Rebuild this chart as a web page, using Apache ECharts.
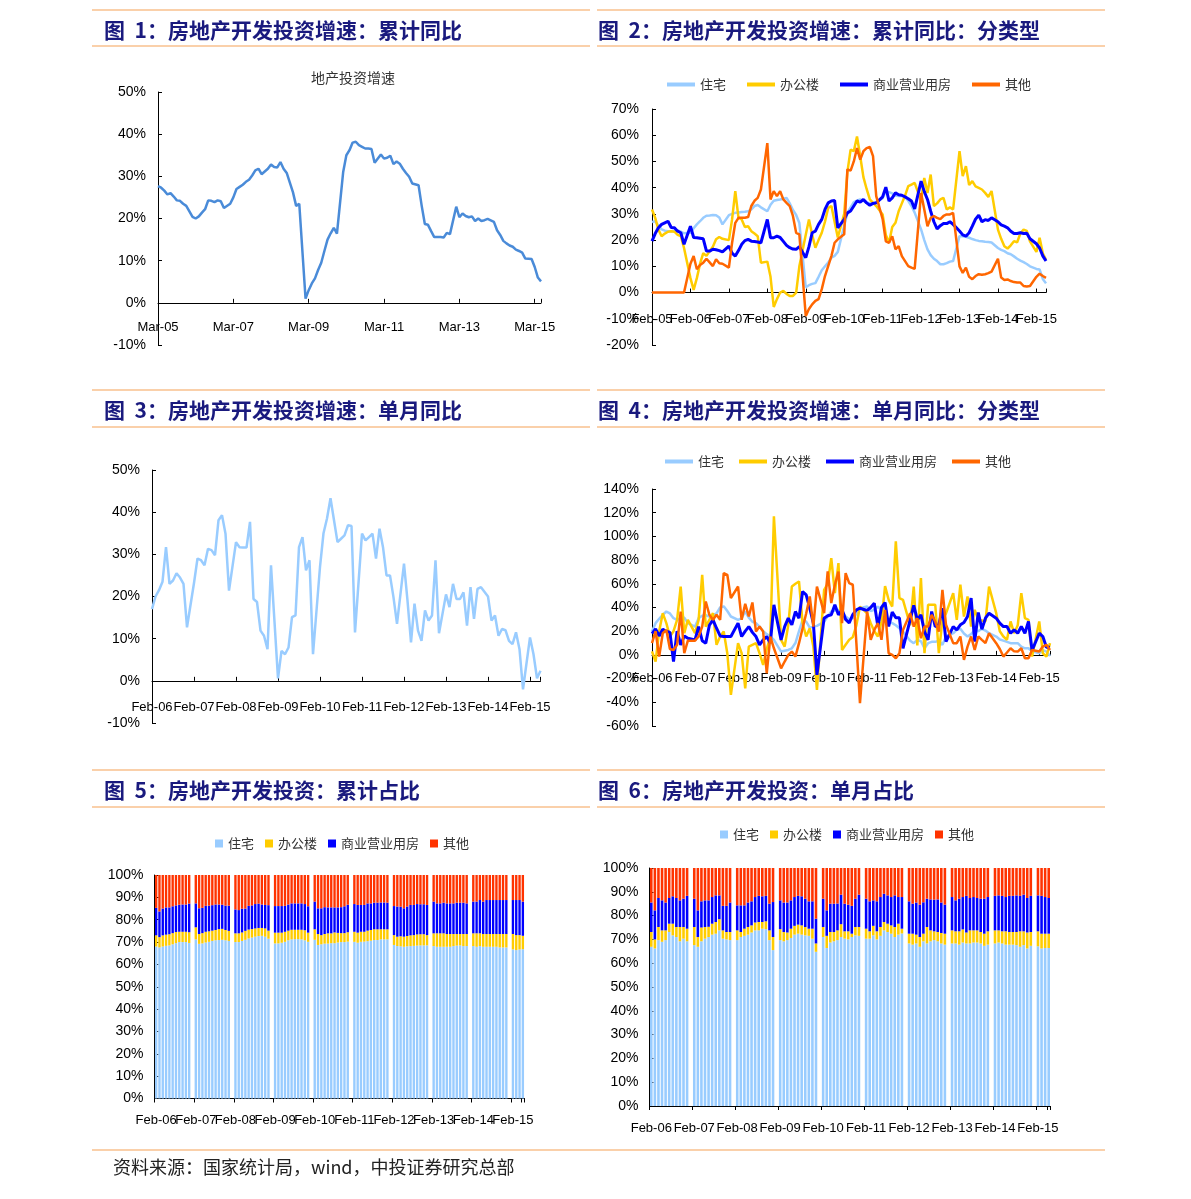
<!DOCTYPE html>
<html><head><meta charset="utf-8">
<script src="https://cdn.jsdelivr.net/npm/echarts@6/dist/echarts.min.js"></script>
<style>html,body{margin:0;padding:0;background:#fff;}#c{width:1191px;height:1199px;}</style>
</head><body><div id="c"></div>
<script>
// ---------- categories / tick labels ----------
const MON = ['Jan','Feb','Mar','Apr','May','Jun','Jul','Aug','Sep','Oct','Nov','Dec'];
function monthLabels(y, m, n) { const a = []; for (let i = 0; i < n; i++) { const k = m - 1 + i; a.push(MON[k % 12] + '-' + String((y + Math.floor(k / 12)) % 100).padStart(2, '0')); } return a; }
const cat1 = monthLabels(2005, 3, 123);   // Mar-05 .. May-15
const cat2 = monthLabels(2005, 2, 124);   // Feb-05 .. May-15
const cat36 = monthLabels(2006, 2, 112);  // Feb-06 .. May-15
const seriesNames = ['住宅', '办公楼', '商业营业用房', '其他'];

// ---------- chart 1: 地产投资增速 (累计同比) ----------
const cum1 = [27.7,27.3,26.6,25.7,26.0,25.2,24.3,24.2,23.5,23.0,null,
20.4,20.0,20.5,21.4,22.2,24.3,24.2,23.9,24.3,24.1,22.5,null,
23.5,25.0,27.0,27.5,28.0,28.7,29.2,30.2,31.4,31.8,30.5,null,
31.8,32.8,32.2,32.1,33.4,31.8,30.8,28.5,26.2,23.0,23.5,null,
1.0,3.0,4.6,5.8,7.8,9.5,12.3,15.0,16.5,17.8,16.4,null,
31.1,35.0,36.2,38.0,38.2,37.4,37.0,36.6,36.6,36.5,33.2,null,
35.2,34.2,34.4,34.9,32.9,33.5,33.0,31.8,30.8,29.9,28.3,null,
27.9,23.0,18.7,18.5,17.0,15.6,15.6,15.6,15.5,16.6,16.3,null,
22.8,20.3,21.2,20.6,20.3,20.5,19.4,20.0,19.4,19.6,19.9,null,
19.2,17.2,16.1,14.7,14.1,13.6,13.3,12.6,12.3,11.9,10.5,null,
10.4,8.5,6.0,5.1];

// ---------- chart 2: 累计同比 分类型 ----------
const res2 = [26.9,27.2,25.5,24.1,23.6,23.4,23.4,23.6,23.7,23.2,22.6,null,
22.8,24.5,26.0,27.2,28.5,29.3,29.4,29.6,29.5,28.6,26.0,null,
29.5,30.0,30.4,30.5,30.7,30.8,31.0,31.7,33.0,33.4,32.5,null,
31.0,33.5,35.0,35.3,35.5,35.8,36.1,34.0,31.5,29.6,26.5,null,
2.0,2.8,3.3,3.6,6.0,8.5,10.0,11.4,13.3,14.0,15.5,null,
25.5,30.4,32.5,34.5,35.0,35.5,35.0,34.2,34.2,34.2,34.5,null,
36.0,38.6,38.3,37.8,37.0,36.8,36.8,36.5,35.0,33.0,30.5,null,
24.1,20.0,16.5,14.3,12.9,12.0,10.8,10.8,11.2,11.8,12.0,null,
21.5,21.5,21.3,20.9,20.4,20.0,19.7,19.6,19.4,19.3,19.1,null,
17.0,16.3,15.8,15.0,14.6,13.8,12.9,12.2,11.6,10.9,10.0,null,
9.0,8.8,5.2,3.5];
const off2 = [31.7,28.5,24.0,21.5,22.5,23.2,23.4,23.2,22.0,21.5,17.0,null,
5.5,1.0,5.5,11.0,15.0,14.0,15.8,17.5,20.3,21.2,20.5,null,
20.0,27.9,38.7,28.5,27.9,25.0,25.3,23.4,22.5,21.5,11.4,null,
11.8,6.0,-5.5,-2.5,0.0,0.6,-0.5,-1.3,-1.3,0.0,10.0,null,
22.0,27.9,22.0,17.1,20.0,22.8,27.0,32.3,33.0,27.0,21.0,null,
30.0,46.0,54.5,53.9,59.5,52.0,44.0,39.5,35.5,34.2,33.0,null,
29.8,22.0,19.0,25.0,26.6,31.0,34.0,37.0,40.6,41.2,41.8,null,
35.0,43.7,38.0,45.0,33.0,34.0,35.5,36.1,31.7,32.5,31.7,null,
53.9,44.4,48.2,41.0,42.5,40.5,39.9,39.3,38.0,36.5,38.7,null,
24.0,20.5,17.7,16.8,18.0,19.6,19.2,22.5,24.0,23.5,19.5,null,
15.5,20.9,15.0,12.5];
const com2 = [19.6,22.5,24.7,26.0,26.6,27.2,24.8,24.7,23.4,22.8,18.4,null,
25.3,21.0,20.9,20.7,20.5,15.8,15.8,16.5,16.3,16.0,15.5,null,
17.7,15.0,13.9,16.0,18.4,19.8,20.3,19.6,19.5,19.3,19.0,null,
27.9,20.9,20.9,21.5,21.0,19.5,18.0,17.1,16.6,16.5,17.5,null,
13.3,17.5,22.8,23.4,26.0,27.9,31.7,34.2,34.9,35.1,24.7,null,
27.9,30.4,31.1,33.0,34.9,34.5,35.5,34.2,33.3,34.0,34.2,null,
36.5,40.2,34.9,36.1,38.0,37.3,37.1,36.5,35.8,34.9,31.9,null,
42.5,38.5,35.5,31.0,27.0,24.3,25.5,26.3,26.3,27.0,26.0,null,
23.5,22.0,21.5,22.8,25.3,28.0,29.5,27.0,27.8,27.5,28.5,null,
27.0,25.8,25.3,24.7,23.4,22.5,22.5,22.8,22.5,22.6,20.5,null,
18.6,17.0,14.0,12.0];
const oth2 = [0,0,0,0,0,0,0,0,0,0,0,null,
11.0,13.9,8.9,10.5,11.4,12.9,11.5,10.1,12.7,11.2,11.0,null,
9.5,19.0,26.6,28.5,28.5,28.5,28.8,33.0,35.0,36.1,39.3,null,
57.0,35.5,38.7,36.8,38.7,35.5,34.2,33.0,29.2,22.8,22.2,null,
-8.9,-6.3,-4.5,-3.2,-2.5,1.3,6.3,10.1,13.9,19.0,20.3,null,
22.2,47.0,46.5,50.0,55.1,50.7,53.9,55.1,55.5,52.0,36.8,null,
28.0,19.5,19.0,21.5,16.5,17.7,13.9,12.0,10.1,9.5,9.0,null,
38.0,31.7,25.3,28.5,29.2,28.5,28.0,29.2,29.8,29.8,30.4,null,
10.0,7.5,9.5,6.0,5.1,6.3,7.0,6.8,7.0,7.4,8.0,null,
12.9,5.7,4.8,5.0,4.4,4.0,3.8,3.8,2.5,2.3,2.5,null,
6.0,7.2,6.3,5.6];

// ---------- chart 3: 单月同比 ----------
const mon3 = [17.0,20.0,21.5,23.5,31.7,23.0,23.8,25.5,24.5,23.0,12.7,null,
23.2,29.0,28.6,27.4,31.3,31.0,29.8,38.1,39.3,34.9,21.4,null,
32.9,31.7,31.6,31.6,37.7,19.4,18.7,11.9,10.7,7.5,27.4,null,
0.6,7.1,6.3,7.9,15.1,15.5,31.7,34.1,26.2,28.6,6.3,null,
27.0,35.0,38.5,43.3,38.1,32.9,33.7,34.5,36.9,36.7,11.5,null,
34.9,33.3,34.1,34.9,29.0,36.1,31.7,25.0,25.0,19.8,13.5,null,
27.8,19.0,9.1,18.3,11.9,9.5,16.7,14.3,15.5,28.6,11.3,null,
20.5,17.5,23.0,19.4,19.4,21.0,13.1,22.2,14.7,21.8,22.2,null,
20.0,14.3,15.5,10.7,12.3,12.0,9.5,8.7,11.5,7.5,-2.0,null,
10.3,6.3,0.6,2.4];

// ---------- chart 4: 单月同比 分类型 ----------
const res4 = [19.7,26.8,30.5,33.8,36.6,35.0,31.0,29.6,31.0,31.5,26.8,null,
23.9,31.0,33.0,33.5,32.4,33.5,35.0,40.0,41.0,37.0,32.4,null,
29.6,31.0,36.6,31.5,28.0,26.8,23.9,20.0,17.5,15.5,12.7,null,
2.8,3.5,4.2,5.6,10.0,20.0,29.6,28.0,23.0,23.9,24.5,null,
28.0,32.4,36.6,37.5,38.0,36.6,32.4,30.0,31.0,34.5,39.4,null,
40.8,37.0,38.0,40.8,38.0,33.0,28.0,26.8,25.0,22.5,19.7,null,
12.0,9.9,12.7,11.5,5.6,9.9,11.0,11.0,12.0,8.5,15.5,null,
18.3,21.1,22.0,18.0,15.5,17.5,21.0,20.0,22.0,20.5,18.3,null,
15.5,13.0,12.0,11.0,9.9,9.9,9.9,7.0,5.6,5.6,3.0,null,
1.4,4.0,2.8,-1.0];
const off4 = [3.0,-5.6,20.0,35.2,26.8,15.5,20.0,29.6,57.7,18.3,29.6,null,
18.3,29.6,67.6,23.9,29.6,35.2,8.5,15.5,19.7,1.4,-33.8,null,
9.9,1.4,-28.2,7.0,8.5,9.9,1.4,-8.5,5.0,15.5,117.0,null,
12.7,7.0,25.0,57.7,60.0,62.0,26.8,15.5,22.5,7.0,-29.6,null,
54.9,60.0,81.7,52.1,77.5,4.2,8.5,12.7,15.0,25.0,40.8,null,
35.0,26.8,20.0,15.5,28.0,58.0,46.5,40.8,95.8,48.0,46.5,null,
25.0,57.7,8.0,64.8,1.4,42.3,42.3,42.3,1.4,29.6,35.0,null,
52.1,29.6,59.2,32.4,49.3,23.9,38.0,29.6,29.0,28.2,57.7,null,
35.2,20.0,15.5,12.7,28.2,18.3,25.0,52.1,31.0,29.6,-1.4,null,
28.2,1.4,-1.4,9.9];
const com4 = [18.0,22.0,16.0,21.7,20.0,19.0,-5.6,20.0,8.5,16.0,14.0,null,
12.7,23.9,12.0,9.9,25.0,29.6,22.5,16.0,15.5,15.5,15.5,null,
26.8,15.5,20.0,23.9,19.0,15.5,8.5,12.7,15.5,9.9,42.3,null,
12.7,23.9,31.0,25.4,36.6,31.0,53.5,50.7,39.4,26.8,-16.9,null,
31.0,33.0,33.8,42.3,33.8,38.0,30.0,27.0,34.0,38.0,39.4,null,
37.5,40.0,43.7,24.0,40.0,44.2,24.0,36.1,31.3,31.3,5.6,null,
29.6,41.7,29.6,33.8,19.7,12.7,36.6,23.9,25.4,39.4,11.3,null,
23.9,21.1,25.4,27.3,32.4,47.9,11.3,35.8,21.7,31.0,35.2,null,
31.0,26.8,23.9,23.9,18.3,21.1,18.3,23.9,18.3,28.2,3.7,null,
18.3,15.5,6.5,6.5];
const oth4 = [9.9,20.0,-1.4,18.3,21.1,5.0,4.2,8.5,36.6,1.4,12.0,null,
12.0,15.5,23.9,45.1,33.8,29.6,33.8,29.6,69.0,67.6,47.9,null,
57.7,29.6,43.1,32.4,44.2,19.7,23.9,19.7,-15.5,15.5,5.6,null,
-11.3,-5.6,0.0,2.8,-1.4,9.9,22.5,35.0,49.3,23.9,57.7,null,
35.2,70.4,43.7,59.2,70.4,26.8,69.0,60.6,59.2,9.9,-40.8,null,
36.6,12.7,21.1,26.8,12.7,38.0,1.4,0.0,-2.8,1.4,21.1,null,
35.2,23.9,31.0,14.1,23.9,23.9,33.8,28.2,19.7,54.9,25.4,null,
9.9,9.9,15.5,-4.2,7.0,15.5,4.2,15.5,12.7,10.0,18.3,null,
9.9,5.0,-1.4,2.0,5.6,3.0,2.8,5.6,-2.8,-2.8,4.2,null,
2.8,7.0,8.5,4.2];

// ---------- chart 5: 累计占比 ----------
const res5 = [68.0,67.6,68.0,68.3,68.5,69.0,69.5,70.0,70.0,70.0,69.6,null,
71.2,69.2,69.4,69.8,70.1,70.5,70.8,70.9,71.0,70.8,70.5,null,
70.0,70.0,70.5,71.0,71.6,72.0,72.4,72.7,72.8,72.4,71.5,null,
69.4,69.4,69.7,70.1,70.8,71.2,71.3,71.3,71.2,70.8,70.1,null,
71.0,68.7,69.0,69.3,69.3,69.5,69.5,69.8,70.0,70.0,70.2,null,
70.1,69.7,70.1,70.2,70.4,70.6,70.9,70.9,71.2,71.2,71.2,null,
68.7,68.2,68.1,67.9,68.1,68.2,68.3,68.4,68.5,68.5,68.5,null,
68.2,67.9,67.9,67.9,67.9,67.9,68.2,68.4,68.5,68.2,68.2,null,
68.2,67.9,68.2,67.9,67.9,67.9,67.9,67.9,67.6,67.6,67.6,null,
66.7,66.4,66.7,66.8];
const off5 = [5.0,4.6,5.0,5.0,5.0,5.0,5.0,4.6,4.6,4.6,4.8,null,
5.4,4.4,4.6,4.8,4.7,4.6,4.6,4.9,4.9,4.6,4.5,null,
3.9,3.9,3.8,4.0,4.0,3.8,3.7,3.6,3.5,3.7,3.6,null,
4.8,4.8,4.5,4.5,4.3,4.3,4.2,4.2,4.3,4.5,4.1,null,
4.7,4.9,4.1,4.3,4.6,4.4,4.8,4.3,4.0,4.0,4.2,null,
4.5,4.5,4.5,4.4,4.7,4.8,4.8,4.8,4.5,4.5,4.5,null,
4.4,4.2,4.5,4.5,4.6,4.8,4.8,5.0,5.0,5.0,4.6,null,
5.7,6.0,6.0,6.0,5.7,5.7,5.4,5.2,5.1,5.4,5.4,null,
5.7,6.0,5.7,5.7,5.7,5.7,5.7,5.7,6.0,6.0,6.0,null,
6.9,6.7,6.4,6.0];
const com5 = [12.3,11.5,12.0,12.2,12.0,12.0,11.9,12.1,12.2,12.2,12.8,null,
10.7,11.5,11.3,11.6,11.5,11.4,11.4,11.0,10.8,10.9,11.3,null,
10.7,10.4,10.6,10.0,10.6,10.6,10.9,10.9,10.5,10.5,11.4,null,
11.9,11.9,11.9,11.6,11.7,11.8,11.8,11.8,11.8,11.7,11.8,null,
12.4,11.5,12.0,12.0,11.6,11.6,11.2,11.4,11.6,12.0,12.3,null,
12.4,12.4,12.0,12.0,12.2,11.9,11.9,11.9,12.0,12.0,11.9,null,
13.0,13.5,13.2,12.7,13.2,13.6,13.5,13.6,13.4,13.4,13.5,null,
14.2,13.4,13.4,13.7,13.7,13.7,13.7,14.0,14.0,14.0,13.7,null,
14.2,14.2,14.9,14.5,15.2,15.2,15.2,15.2,15.2,15.2,15.2,null,
15.2,15.7,15.7,15.3];
const oth5 = [14.7,16.3,15.0,14.5,14.5,14.0,13.6,13.3,13.2,13.2,12.8,null,
12.7,14.9,14.7,13.8,13.7,13.5,13.2,13.2,13.3,13.7,13.7,null,
15.4,15.7,15.1,15.0,13.8,13.6,13.0,12.8,13.2,13.4,13.5,null,
13.9,13.9,13.9,13.8,13.2,12.7,12.7,12.7,12.7,13.0,14.0,null,
11.9,14.9,14.9,14.4,14.5,14.5,14.5,14.5,14.4,14.0,13.3,null,
13.0,13.4,13.4,13.4,12.7,12.7,12.4,12.4,12.3,12.3,12.4,null,
13.9,14.1,14.2,14.9,14.1,13.4,13.4,13.0,13.1,13.1,13.4,null,
11.9,12.7,12.7,12.4,12.7,12.7,12.7,12.4,12.4,12.4,12.7,null,
11.9,11.9,11.2,11.9,11.2,11.2,11.2,11.2,11.2,11.2,11.2,null,
11.2,11.2,11.2,11.9];

// ---------- chart 6: 单月占比 ----------
const res6 = [66.9,66.2,69.7,69.0,69.7,73.1,71.7,71.0,69.2,70.3,69.2,null,
67.6,66.9,69.2,70.3,71.0,72.0,72.4,73.8,70.3,70.0,69.7,null,
69.7,71.0,71.5,72.0,72.9,73.8,73.8,74.5,74.3,69.7,65.5,null,
69.7,69.2,69.7,70.6,72.0,72.4,72.0,71.7,71.5,70.3,64.8,null,
71.0,66.4,68.7,69.2,69.7,71.0,70.3,70.0,71.0,71.7,71.5,null,
70.3,70.3,71.7,70.0,71.5,73.8,73.1,72.4,71.0,72.0,72.5,null,
68.3,67.8,68.3,66.9,69.2,68.3,69.2,69.7,69.2,68.3,67.8,null,
68.3,68.3,67.8,68.7,68.3,68.3,68.7,68.7,68.3,67.3,67.8,null,
68.3,68.7,68.3,67.8,67.8,67.8,67.6,66.9,67.6,66.2,67.3,null,
67.1,66.2,66.4,66.4];
const off6 = [6.2,3.8,5.5,4.8,4.1,3.5,4.9,4.2,6.0,4.9,5.3,null,
7.6,4.1,5.8,4.9,4.3,4.6,4.9,4.7,3.5,3.1,3.4,null,
4.1,2.1,3.0,3.2,3.0,3.3,3.5,2.8,3.3,4.1,5.5,null,
4.6,3.9,3.2,3.9,3.7,3.8,3.9,3.5,3.0,4.2,3.5,null,
4.2,5.1,4.4,3.9,4.1,5.4,3.1,3.4,1.4,3.5,3.7,null,
4.2,3.1,4.0,3.4,3.7,3.5,3.5,3.5,4.2,4.6,2.0,null,
4.1,4.6,3.7,4.1,3.2,6.9,4.6,3.7,3.9,4.4,4.6,null,
5.5,5.1,5.6,5.5,4.6,5.5,5.1,5.1,4.8,5.1,5.6,null,
5.5,5.1,5.1,5.6,5.3,5.3,5.5,6.5,5.8,6.7,5.8,null,
6.3,6.2,6.0,6.0];
const com6 = [12.4,12.2,12.2,12.6,11.7,10.8,11.5,12.2,11.2,11.9,13.8,null,
11.9,11.2,11.0,11.2,11.1,11.2,11.2,10.0,10.3,11.0,12.4,null,
10.5,11.2,9.8,10.3,10.1,10.7,11.0,10.8,10.7,11.2,14.7,null,
12.1,12.4,12.6,11.9,12.1,12.1,12.2,11.9,11.5,11.5,10.4,null,
11.9,10.7,11.9,11.9,11.3,12.4,11.6,11.2,11.7,11.9,13.6,null,
12.6,12.6,10.7,12.6,12.6,11.9,11.9,11.9,13.3,11.2,13.3,null,
13.6,12.6,13.5,13.6,13.2,11.9,13.0,13.3,13.7,12.8,12.2,null,
14.0,13.0,13.7,13.6,15.4,13.6,14.0,13.6,14.0,14.7,14.4,null,
14.5,14.7,14.9,14.4,15.2,15.2,15.4,14.9,15.4,14.5,15.2,null,
15.1,15.9,15.4,15.0];
const oth6 = [14.5,17.8,12.6,13.6,14.5,12.6,11.9,12.6,13.6,12.9,11.7,null,
12.9,17.8,14.0,13.6,13.6,12.2,11.5,11.5,15.9,15.9,14.5,null,
15.7,15.7,15.7,14.5,14.0,12.2,11.7,11.9,11.7,15.0,14.3,null,
13.6,14.5,14.5,13.6,12.2,11.7,11.9,12.9,14.0,14.0,21.3,null,
12.9,17.8,15.0,15.0,14.9,11.2,15.0,15.4,15.9,12.9,11.2,null,
12.9,14.0,13.6,14.0,12.2,10.8,11.5,12.2,11.5,12.2,12.2,null,
14.0,15.0,14.5,15.4,14.4,12.9,13.2,13.3,13.2,14.5,15.4,null,
12.2,13.6,12.9,12.2,11.7,12.6,12.2,12.6,12.9,12.9,12.2,null,
11.7,11.5,11.7,12.2,11.7,11.7,11.5,11.7,11.2,12.6,11.7,null,
11.5,11.7,12.2,12.6];

// ---------- styling ----------
const NUM = "'Liberation Sans Narrow','Arial Narrow','Liberation Sans',Arial,sans-serif";
const CJK = "'Noto Sans CJK SC','Noto Sans SC',sans-serif";
const LINE_COLORS = ['#99ccff', '#ffcc00', '#0000ff', '#ff6600'];
const BAR_COLORS = ['#99ccff', '#ffcc00', '#0000ff', '#ff3300'];
const HEAD = '#1a1a7e', RULE = '#f8c08e';
const FSX = 13, FSY = 14;

// every = show a label every N categories; offset moves the axis up to the 0% line
function catAxis(gi, data, every, boundaryGap, tickInside, margin, offset) {
  return { type: 'category', gridIndex: gi, data: data, boundaryGap: boundaryGap, position: 'bottom', offset: offset || 0,
    axisLine: { show: true, onZero: false, lineStyle: { color: '#000', width: 1 } },
    axisTick: { show: true, inside: tickInside, length: 4, interval: every - 1, lineStyle: { color: '#000' } },
    axisLabel: { interval: 0, margin: margin, fontSize: FSX, fontFamily: NUM, color: '#000',
      formatter: (v, i) => (i % every === 0 ? v : '') },
    splitLine: { show: false } };
}
function valAxis(gi, min, max, interval, margin) {
  return { type: 'value', gridIndex: gi, min: min, max: max, interval: interval,
    axisLine: { show: true, lineStyle: { color: '#000', width: 1 } },
    axisTick: { show: true, inside: true, length: 4, lineStyle: { color: '#000' } },
    axisLabel: { formatter: '{value}%', margin: margin, fontSize: FSY, fontFamily: NUM, color: '#000', showMinLabel: true, showMaxLabel: true },
    splitLine: { show: false } };
}
function lineSeries(name, gi, data, color, w) {
  return { type: 'line', name: name, xAxisIndex: gi, yAxisIndex: gi, data: data, symbol: 'none', showSymbol: false,
    connectNulls: true, lineStyle: { color: color, width: w || 2.5 }, itemStyle: { color: color } };
}
function barSeries(name, gi, data, color, stack) {
  return { type: 'bar', name: name, xAxisIndex: gi, yAxisIndex: gi, data: data, stack: stack,
    barCategoryGap: '28%', itemStyle: { color: color } };
}
function legendCfg(left, top, w, h, gap, colors) {
  return { left: left, top: top, itemWidth: w, itemHeight: h, itemGap: gap, icon: 'rect', orient: 'horizontal', padding: 0,
    textStyle: { fontSize: 13, fontFamily: CJK, color: '#333' },
    data: seriesNames.map((n, i) => ({ name: n, itemStyle: { color: colors[i] } })) };
}
function rule(x1, y, x2) { return { type: 'line', silent: true, shape: { x1: x1, y1: y, x2: x2, y2: y }, style: { stroke: RULE, lineWidth: 1.5 } }; }
function head(x, y, t) { return { type: 'text', silent: true, x: x, y: y, style: { text: t, fontSize: 21, fontWeight: 'bold', fontFamily: CJK, fill: HEAD, verticalAlign: 'middle' } }; }

const gridBase = { containLabel: false, outerBoundsMode: 'none' };
const option = {
  animation: false,
  backgroundColor: '#fff',
  textStyle: { fontFamily: NUM },
  grid: [
    Object.assign({ left: 158, top: 92, width: 383, height: 253 }, gridBase),
    Object.assign({ left: 652, top: 109, width: 394, height: 236 }, gridBase),
    Object.assign({ left: 152, top: 470, width: 388.5, height: 253 }, gridBase),
    Object.assign({ left: 652, top: 489, width: 398, height: 237 }, gridBase),
    Object.assign({ left: 154.5, top: 875, width: 370, height: 223.5 }, gridBase),
    Object.assign({ left: 649.5, top: 868, width: 401, height: 238 }, gridBase)
  ],
  xAxis: [
    catAxis(0, cat1, 24, false, true, 18, -253 * 10 / 60),
    catAxis(1, cat2, 12, false, true, 20, -236 * 20 / 90),
    catAxis(2, cat36, 12, false, true, 20, -253 * 10 / 60),
    catAxis(3, cat36, 12, false, true, 17, -237 * 60 / 200),
    catAxis(4, cat36, 12, true, false, 15, 0),
    catAxis(5, cat36, 12, true, false, 16, 0)
  ],
  yAxis: [
    valAxis(0, -10, 50, 10, 12),
    valAxis(1, -20, 70, 10, 13),
    valAxis(2, -10, 50, 10, 12),
    valAxis(3, -60, 140, 20, 13),
    valAxis(4, 0, 100, 10, 11),
    valAxis(5, 0, 100, 10, 11)
  ],
  legend: [
    legendCfg(667, 78, 28, 4, 21, LINE_COLORS),
    legendCfg(665, 455, 28, 4, 15, LINE_COLORS),
    legendCfg(215, 837, 8, 8, 11, BAR_COLORS),
    legendCfg(720, 828, 8, 8, 11, BAR_COLORS)
  ],
  series: [
    lineSeries('地产投资增速', 0, cum1, '#4a8bd8', 2.5),
    lineSeries(seriesNames[0], 1, res2, LINE_COLORS[0]),
    lineSeries(seriesNames[1], 1, off2, LINE_COLORS[1]),
    lineSeries(seriesNames[2], 1, com2, LINE_COLORS[2], 3),
    lineSeries(seriesNames[3], 1, oth2, LINE_COLORS[3]),
    lineSeries('单月同比', 2, mon3, '#99ccff', 2.5),
    lineSeries(seriesNames[0], 3, res4, LINE_COLORS[0]),
    lineSeries(seriesNames[1], 3, off4, LINE_COLORS[1]),
    lineSeries(seriesNames[2], 3, com4, LINE_COLORS[2], 3),
    lineSeries(seriesNames[3], 3, oth4, LINE_COLORS[3]),
    barSeries(seriesNames[0], 4, res5, BAR_COLORS[0], 's5'),
    barSeries(seriesNames[1], 4, off5, BAR_COLORS[1], 's5'),
    barSeries(seriesNames[2], 4, com5, BAR_COLORS[2], 's5'),
    barSeries(seriesNames[3], 4, oth5, BAR_COLORS[3], 's5'),
    barSeries(seriesNames[0], 5, res6, BAR_COLORS[0], 's6'),
    barSeries(seriesNames[1], 5, off6, BAR_COLORS[1], 's6'),
    barSeries(seriesNames[2], 5, com6, BAR_COLORS[2], 's6'),
    barSeries(seriesNames[3], 5, oth6, BAR_COLORS[3], 's6')
  ],
  graphic: [
    rule(92, 10, 590), rule(597, 10, 1105), rule(92, 46, 590), rule(597, 46, 1105),
    rule(92, 390, 590), rule(597, 390, 1105), rule(92, 427, 590), rule(597, 427, 1105),
    rule(92, 770, 590), rule(597, 770, 1105), rule(92, 807, 590), rule(597, 807, 1105),
    rule(92, 1150, 1105),
    head(104, 30, '图  1：房地产开发投资增速：累计同比'),
    head(598, 30, '图  2：房地产开发投资增速：累计同比：分类型'),
    head(104, 410, '图  3：房地产开发投资增速：单月同比'),
    head(598, 410, '图  4：房地产开发投资增速：单月同比：分类型'),
    head(104, 790, '图  5：房地产开发投资：累计占比'),
    head(598, 790, '图  6：房地产开发投资：单月占比'),
    { type: 'text', silent: true, x: 353, y: 78, style: { text: '地产投资增速', fontSize: 14, fontFamily: CJK, fill: '#333', align: 'center', verticalAlign: 'middle' } },
    { type: 'text', silent: true, x: 113, y: 1167, style: { text: '资料来源：国家统计局，wind，中投证券研究总部', fontSize: 18, fontFamily: CJK, fill: '#222', verticalAlign: 'middle' } }
  ]
};
const chart = echarts.init(document.getElementById('c'), null, { renderer: 'canvas', width: 1191, height: 1199 });
chart.setOption(option);
</script></body></html>
